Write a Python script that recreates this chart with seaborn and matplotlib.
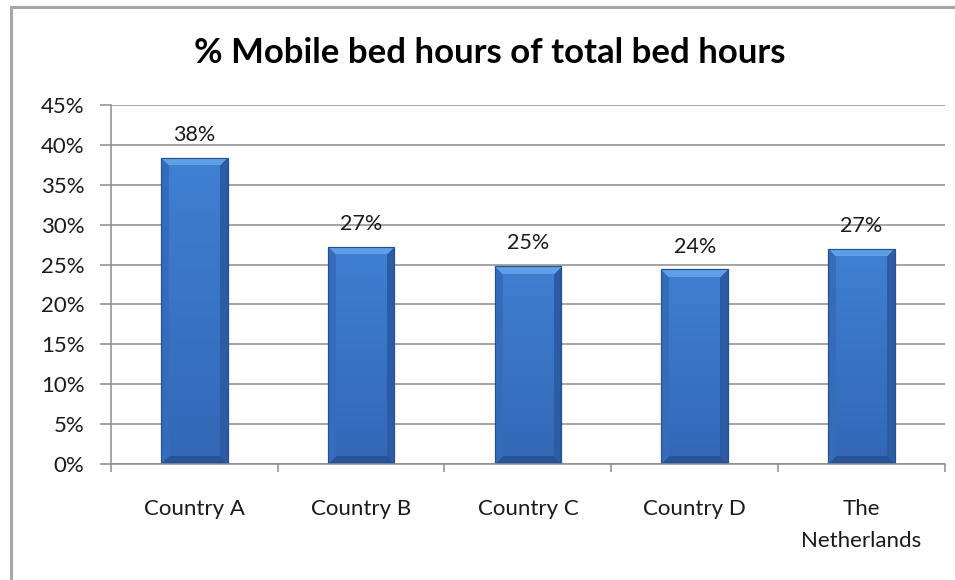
import numpy as np
import pandas as pd
import matplotlib
matplotlib.use("Agg")
import matplotlib.pyplot as plt
import seaborn as sns
from matplotlib.patches import Rectangle
from matplotlib.colors import to_rgb
from matplotlib.ticker import PercentFormatter, FixedLocator

# data
countries = ["Country A", "Country B", "Country C", "Country D", "The\nNetherlands"]
share = [38.4, 27.2, 24.8, 24.4, 27.0]
yticks = [0, 5, 10, 15, 20, 25, 30, 35, 40, 45]

sns.set_style("white")
plt.rcParams["font.family"] = ["Lato", "DejaVu Sans"]

df = pd.DataFrame({"country": countries, "share": share})

fig = plt.figure(figsize=(9.55, 5.8), dpi=100)
ax = fig.add_axes([0.116, 0.2, 0.8735, 0.619])

sns.barplot(data=df, x="country", y="share", color="#3b78c9", width=0.4,
            edgecolor="#24508f", linewidth=0.8, ax=ax)

ax.set_xlim(-0.5, len(countries) - 0.5)
ax.set_ylim(0, 45)


def bevel_image(wpx, hpx, b=8):
    # excel 2007 style bevel: light top, darker sides and bottom
    face_top = np.array(to_rgb("#3f80d2"))
    face_bot = np.array(to_rgb("#3467b6"))
    top = np.array(to_rgb("#5e9fe6"))
    left = np.array(to_rgb("#356dbb"))
    right = np.array(to_rgb("#2b5ca4"))
    bottom = np.array(to_rgb("#27539a"))
    rows, cols = np.mgrid[0:hpx, 0:wpx]
    t = rows / max(hpx - 1, 1)
    img = face_top * (1 - t[..., None]) + face_bot * t[..., None]
    d = np.stack([rows, cols, wpx - 1 - cols, hpx - 1 - rows])
    near = d.argmin(axis=0)
    dmin = d.min(axis=0)
    edge = dmin < b
    for k, c in enumerate([top, left, right, bottom]):
        m = edge & (near == k)
        img[m] = c
    return img


# pixels per data unit, used to size the bevel images
px_x = ax.transData.transform((1, 0))[0] - ax.transData.transform((0, 0))[0]
px_y = ax.transData.transform((0, 1))[1] - ax.transData.transform((0, 0))[1]
for p in ax.patches:
    x0, y0 = p.get_x(), p.get_y()
    w, h = p.get_width(), p.get_height()
    img = bevel_image(int(round(w * px_x)), int(round(h * px_y)))
    im = ax.imshow(img, aspect="auto", extent=[x0, x0 + w, y0, y0 + h],
                   interpolation="bilinear", zorder=p.get_zorder() + 0.1)
    im.set_clip_path(p)
    ax.add_patch(Rectangle((x0, y0), w, h, fill=False, edgecolor="#24508f",
                           linewidth=0.8, zorder=p.get_zorder() + 0.2))

for i, v in enumerate(share):
    ax.text(i, v + 1.6, f"{v:.0f}%", ha="center", va="bottom", fontsize=15.5,
            color="#1a1a1a", zorder=5)

ax.set_xlim(-0.5, len(countries) - 0.5)
ax.set_ylim(0, 45)
ax.set_yticks(yticks)
ax.yaxis.set_major_formatter(PercentFormatter(decimals=0))
ax.grid(axis="y", color="#8c8c8c", linewidth=1.1)
ax.set_axisbelow(True)

for s in ["top", "right"]:
    ax.spines[s].set_visible(False)
ax.spines["left"].set_color("#8c8c8c")
ax.spines["bottom"].set_color("#8c8c8c")
ax.spines["left"].set_linewidth(1.1)
ax.spines["bottom"].set_linewidth(1.1)

ax.tick_params(axis="y", which="major", length=8, width=1.1, color="#8c8c8c",
               left=True, pad=11, labelsize=16, labelcolor="#1a1a1a")
ax.tick_params(axis="x", which="major", length=0, pad=25, labelsize=16,
               labelcolor="#1a1a1a")
ax.xaxis.set_minor_locator(FixedLocator(np.arange(-0.5, len(countries), 1.0)))
ax.tick_params(axis="x", which="minor", length=6, width=1.1, color="#8c8c8c",
               bottom=True)
for t in ax.get_xticklabels():
    t.set_va("top")
    t.set_linespacing(1.75)

ax.set_xlabel("")
ax.set_ylabel("")

fig.text(0.513, 0.908, "% Mobile bed hours of total bed hours", ha="center",
         va="center", fontsize=25, fontweight="bold", color="#000000")

# outer chart border (right and bottom run off the image)
fig.patches.append(Rectangle((10.5 / 955, -0.05), 1.2, 1.05 - 6.5 / 580,
                             transform=fig.transFigure, fill=False,
                             edgecolor="#a6a6a6", linewidth=2.2))

fig.savefig("out.png", dpi=100)
